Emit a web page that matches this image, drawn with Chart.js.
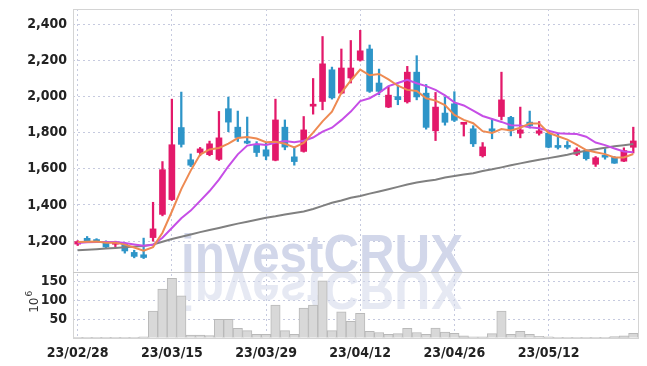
<!DOCTYPE html>
<html>
<head>
<meta charset="utf-8">
<script src="https://cdn.jsdelivr.net/npm/chart.js@4"></script>
<style>
  html, body { margin: 0; padding: 0; background: #fff; }
</style>
</head>
<body>
<canvas id="chart" width="647" height="366"></canvas>
<script>

const dates = ['23/02/28', '23/03/02', '23/03/03', '23/03/06', '23/03/07', '23/03/08', '23/03/09', '23/03/10', '23/03/13', '23/03/14',
    '23/03/15', '23/03/16', '23/03/17', '23/03/20', '23/03/21', '23/03/22', '23/03/23', '23/03/24', '23/03/27', '23/03/28',
    '23/03/29', '23/03/30', '23/03/31', '23/04/03', '23/04/04', '23/04/05', '23/04/06', '23/04/07', '23/04/10', '23/04/11',
    '23/04/12', '23/04/13', '23/04/14', '23/04/17', '23/04/18', '23/04/19', '23/04/20', '23/04/21', '23/04/24', '23/04/25',
    '23/04/26', '23/04/27', '23/04/28', '23/05/02', '23/05/03', '23/05/04', '23/05/08', '23/05/09', '23/05/10', '23/05/11',
    '23/05/12', '23/05/15', '23/05/16', '23/05/17', '23/05/18', '23/05/19', '23/05/22', '23/05/23', '23/05/24', '23/05/25'];

const opens = [1184, 1216, 1203, 1198, 1183, 1186, 1138, 1125, 1220, 1348, 1430, 1828, 1650, 1690, 1678, 1652, 1932, 1830, 1750, 1730,
    1705, 1647, 1830, 1666, 1696, 1946, 1972, 2147, 2018, 2102, 2200, 2262, 2074, 1941, 1999, 1970, 2134, 2018, 1810, 1908,
    1959, 1846, 1821, 1672, 1821, 1889, 1884, 1796, 1858, 1796, 1797, 1721, 1729, 1680, 1699, 1625, 1668, 1663, 1642, 1719];
const highs = [1203, 1226, 1214, 1202, 1200, 1192, 1150, 1217, 1415, 1640, 1985, 2024, 1682, 1718, 1753, 1917, 1996, 1919, 1886, 1750,
    1742, 1985, 1870, 1720, 1889, 2099, 2331, 2162, 2262, 2309, 2365, 2284, 2151, 2055, 2063, 2166, 2225, 2066, 2022, 1996,
    2026, 1856, 1838, 1745, 1876, 2134, 1890, 1941, 1919, 1861, 1800, 1792, 1751, 1716, 1705, 1668, 1712, 1668, 1716, 1830];
const lows = [1176, 1192, 1195, 1160, 1170, 1134, 1108, 1104, 1200, 1340, 1425, 1720, 1612, 1672, 1672, 1646, 1805, 1751, 1738, 1668,
    1650, 1644, 1705, 1620, 1692, 1902, 1926, 1985, 2014, 2074, 2195, 2022, 2009, 1938, 1954, 1963, 1981, 1819, 1756, 1841,
    1861, 1781, 1723, 1665, 1766, 1870, 1782, 1771, 1825, 1786, 1716, 1709, 1710, 1673, 1648, 1613, 1653, 1630, 1640, 1687];
const closes = [1198, 1199, 1198, 1168, 1196, 1146, 1116, 1110, 1268, 1595, 1733, 1735, 1620, 1710, 1738, 1771, 1858, 1773, 1742, 1690,
    1670, 1870, 1720, 1640, 1815, 1954, 2180, 1992, 2157, 2157, 2252, 2028, 2028, 2007, 1982, 2134, 1997, 1829, 1941, 1857,
    1868, 1854, 1738, 1721, 1808, 1981, 1810, 1815, 1839, 1810, 1719, 1718, 1719, 1705, 1656, 1661, 1664, 1631, 1701, 1754];

// volume in millions
const volumes = [1, 1, 1, 1, 1, 1, 1, 2, 71, 130, 159, 112, 7, 7, 6, 49, 49, 25, 19, 9,
    9, 87, 19, 9, 79, 87, 152, 19, 69, 44, 65, 17, 14, 9, 11, 25, 14, 9, 26, 15,
    12, 5, 2, 2, 11, 71, 9, 17, 9, 4, 2, 1, 1, 1, 1, 1, 1, 3, 5, 12];

const ma5 = [1196, 1197, 1198, 1192, 1192, 1181, 1165, 1147, 1167, 1247, 1364, 1488, 1590, 1679, 1707, 1715, 1739, 1770, 1776, 1767,
    1747, 1749, 1738, 1718, 1743, 1800, 1862, 1916, 2020, 2088, 2148, 2117, 2124, 2094, 2059, 2036, 2030, 1990, 1977, 1952,
    1898, 1870, 1852, 1808, 1798, 1820, 1812, 1827, 1851, 1851, 1799, 1780, 1761, 1734, 1703, 1692, 1681, 1663, 1663, 1682];
const ma10 = [1190, 1194, 1196, 1196, 1195, 1190, 1182, 1175, 1180, 1219, 1273, 1327, 1369, 1423, 1477, 1540, 1614, 1680, 1728, 1737,
    1731, 1744, 1754, 1747, 1755, 1773, 1805, 1827, 1869, 1916, 1974, 1990, 2020, 2057, 2074, 2092, 2073, 2057, 2036, 2006,
    1967, 1950, 1921, 1892, 1875, 1859, 1841, 1839, 1829, 1824, 1810, 1796, 1794, 1792, 1777, 1745, 1731, 1712, 1696, 1691];
const maLong = [1150, 1153, 1156, 1160, 1163, 1166, 1170, 1174, 1182, 1197, 1212, 1225, 1237, 1250, 1262, 1273, 1285, 1297, 1307, 1318,
    1330, 1338, 1348, 1356, 1364, 1378, 1395, 1412, 1425, 1440, 1450, 1463, 1475, 1487, 1500, 1513, 1524, 1532, 1540, 1552,
    1560, 1568, 1576, 1588, 1597, 1608, 1620, 1630, 1640, 1650, 1659, 1668, 1678, 1690, 1700, 1708, 1716, 1724, 1730, 1737];

const priceTicks = [1200, 1400, 1600, 1800, 2000, 2200, 2400];
const volumeTicks = [50, 100, 150];

const upColor = '#e3196a';
const downColor = '#2e95c8';
const gridColor = '#c6cadf';
const tickFont = { family: "'Liberation Sans Narrow', 'DejaVu Sans Condensed', sans-serif", size: 14, weight: 'bold' };

let candleColor = (ctx) => closes[ctx.dataIndex] >= opens[ctx.dataIndex] ? upColor : downColor;

// y axes: fixed width, no extra padding for the end labels
let fitLeftAxis = (s) => {
    s.width = 73;
    s.paddingTop = 0;
    s.paddingBottom = 0;
};

// watermark, frame and the 10^6 label
const decorations = {
    id: 'decorations',
    beforeDatasetsDraw(chart) {
        let ctx = chart.ctx;
        let area = chart.chartArea;
        let sepY = chart.scales.yv.top;
        ctx.save();
        ctx.beginPath();
        ctx.rect(area.left, area.top, area.right - area.left, area.bottom - area.top);
        ctx.clip();
        ctx.font = 'bold 54px "Liberation Sans", sans-serif';
        let w = ctx.measureText('investCRUX').width;
        ctx.translate(181, sepY);
        ctx.scale(282 / w, 1);
        ctx.fillStyle = '#d2d7ea';
        ctx.fillText('investCRUX', 0, 0);
        ctx.scale(1, -1);
        ctx.globalAlpha = 0.55;
        ctx.fillText('investCRUX', 0, 0);
        ctx.restore();
    },
    afterDraw(chart) {
        let ctx = chart.ctx;
        let area = chart.chartArea;
        let sepY = Math.round(chart.scales.yv.top) + 0.5;
        ctx.save();
        ctx.lineWidth = 1;
        ctx.strokeStyle = '#d4d4d4';
        ctx.strokeRect(Math.round(area.left) + 0.5, Math.round(area.top) + 0.5,
            Math.round(area.right - area.left), Math.round(area.bottom - area.top));
        ctx.strokeStyle = '#c8c8c8';
        ctx.beginPath();
        ctx.moveTo(area.left, sepY);
        ctx.lineTo(area.right, sepY);
        ctx.stroke();

        let yv = chart.scales.yv;
        ctx.translate(38, (yv.top + yv.bottom) / 2 + 8);
        ctx.rotate(-Math.PI / 2);
        ctx.fillStyle = '#333';
        ctx.font = '12px "DejaVu Sans", sans-serif';
        ctx.fillText('10', 0, 0);
        let w = ctx.measureText('10').width;
        ctx.font = '9px "DejaVu Sans", sans-serif';
        ctx.fillText('6', w + 1, -6);
        ctx.restore();
    }
};

new Chart(document.getElementById('chart'), {
    data: {
        labels: dates,
        datasets: [
            {
                type: 'line', label: 'MA5', data: ma5, yAxisID: 'y', order: 0,
                borderColor: '#ee8a52', borderWidth: 2, pointRadius: 0, tension: 0
            },
            {
                type: 'line', label: 'MA10', data: ma10, yAxisID: 'y', order: 1,
                borderColor: '#c64ee6', borderWidth: 2, pointRadius: 0, tension: 0
            },
            {
                type: 'line', label: 'MA60', data: maLong, yAxisID: 'y', order: 2,
                borderColor: '#808080', borderWidth: 2, pointRadius: 0, tension: 0
            },
            {
                type: 'bar', label: 'body', yAxisID: 'y', order: 3, grouped: false,
                data: opens.map((o, i) => [o, closes[i]]),
                backgroundColor: candleColor, barThickness: 6, minBarLength: 2
            },
            {
                type: 'bar', label: 'wick', yAxisID: 'y', order: 4, grouped: false,
                data: lows.map((l, i) => [l, highs[i]]),
                backgroundColor: candleColor, barThickness: 1.6
            },
            {
                type: 'bar', label: 'volume', data: volumes, yAxisID: 'yv', order: 5, grouped: false,
                backgroundColor: '#d8d8d8', borderColor: '#b9b9b9', borderWidth: 1,
                barPercentage: 1, categoryPercentage: 1
            }
        ]
    },
    options: {
        responsive: false,
        animation: false,
        layout: { padding: { top: 9, right: 9, left: 0, bottom: -3.5 } },
        plugins: {
            legend: { display: false },
            tooltip: { enabled: false }
        },
        scales: {
            x: {
                type: 'category',
                offset: true,
                afterFit: (s) => { s.paddingLeft = 0; s.paddingRight = 0; },
                grid: {
                    offset: false,
                    drawTicks: false,
                    color: (ctx) => ctx.index % 10 === 0 ? gridColor : 'rgba(0,0,0,0)'
                },
                border: { display: false, dash: [2, 3] },
                ticks: {
                    autoSkip: false, maxRotation: 0, padding: 7.5, color: '#222', font: tickFont,
                    callback: (v, i) => i % 10 === 0 ? dates[i] : ''
                }
            },
            y: {
                type: 'linear', position: 'left', stack: 'panes', stackWeight: 4, weight: 1,
                min: 1030, max: 2483,
                afterBuildTicks: (s) => { s.ticks = priceTicks.map(v => ({ value: v })); },
                afterFit: fitLeftAxis,
                grid: { color: gridColor, drawTicks: false },
                border: { display: false, dash: [2, 3] },
                ticks: { autoSkip: false, padding: 6, color: '#222', font: tickFont, callback: (v) => v.toLocaleString('en-US') }
            },
            yv: {
                type: 'linear', position: 'left', stack: 'panes', stackWeight: 1, weight: 0,
                min: 0, max: 176,
                afterBuildTicks: (s) => { s.ticks = volumeTicks.map(v => ({ value: v })); },
                afterFit: fitLeftAxis,
                grid: { color: gridColor, drawTicks: false },
                border: { display: false, dash: [2, 3] },
                ticks: { autoSkip: false, padding: 6, color: '#222', font: tickFont }
            }
        }
    },
    plugins: [decorations]
});
</script>
</body>
</html>
